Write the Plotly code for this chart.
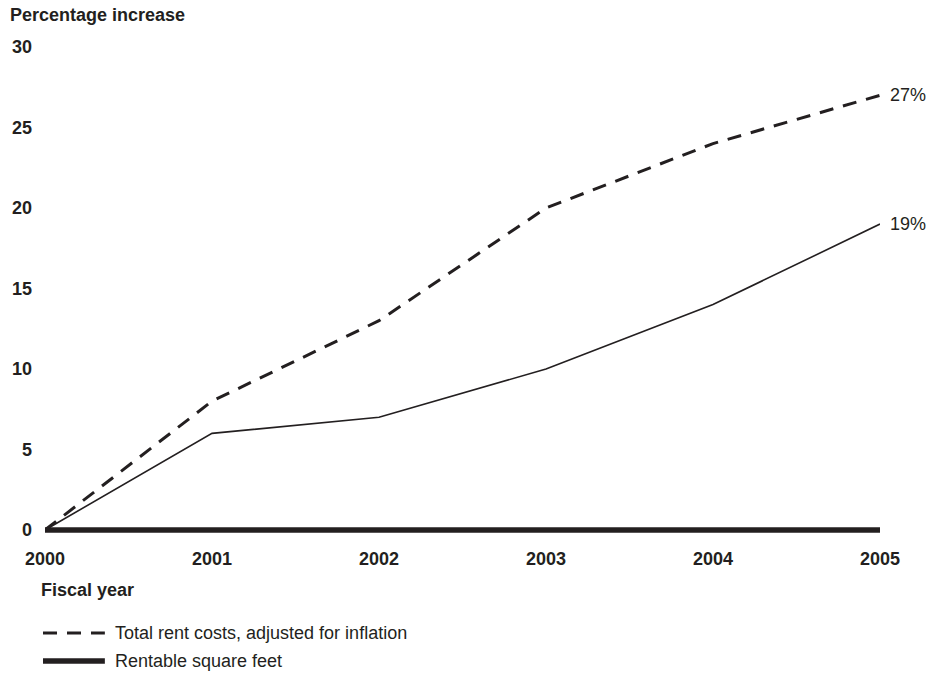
import plotly.graph_objects as go

# Fiscal years and percentage increases since 2000
years = [2000, 2001, 2002, 2003, 2004, 2005]
rent_adjusted = [0, 8, 13, 20, 24, 27]
rent_other = [0, 6, 7, 10, 14, 19]
rentable_sqft = [0, 0, 0, 0, 0, 0]

y_ticks = [0, 5, 10, 15, 20, 25, 30]
x_tick_labels = ["2000", "2001", "2002", "2003", "2004", "2005"]

INK = "#231f20"
FONT = "Liberation Sans, Arial, Helvetica, sans-serif"
FS = 18

# Small headroom below zero so the thick baseline series is not clipped
Y_MIN = -0.25

fig = go.Figure()

fig.add_trace(go.Scatter(
    x=years, y=rentable_sqft, mode="lines", name="Rentable square feet",
    line=dict(color=INK, width=5.5), showlegend=False, hoverinfo="skip"))
fig.add_trace(go.Scatter(
    x=years, y=rent_other, mode="lines", name="Rent",
    line=dict(color=INK, width=1.6), showlegend=False, hoverinfo="skip"))
fig.add_trace(go.Scatter(
    x=years, y=rent_adjusted, mode="lines",
    name="Total rent costs, adjusted for inflation",
    line=dict(color=INK, width=3, dash="14px,10px"), showlegend=False,
    hoverinfo="skip"))

# End-of-line value labels
for series in (rent_adjusted, rent_other):
    fig.add_annotation(x=years[-1], y=series[-1], xref="x", yref="y",
                       text=f"{series[-1]}%", showarrow=False,
                       xanchor="left", yanchor="middle", xshift=8,
                       font=dict(family=FONT, size=FS, color=INK))

# Plot area spans pixel rows 47..534 and columns 43..880
PH = 487.0
PW = 837.0
def py(pixel_row):
    return (534 - pixel_row) / PH
def px(pixel_col):
    return (pixel_col - 43) / PW

# Axis titles
fig.add_annotation(x=px(6), y=py(15), xref="paper", yref="paper",
                   text="Percentage increase", showarrow=False,
                   xanchor="left", yanchor="middle",
                   font=dict(family=FONT, size=FS, color=INK, weight="bold"))
fig.add_annotation(x=px(37), y=py(590), xref="paper", yref="paper",
                   text="Fiscal year", showarrow=False,
                   xanchor="left", yanchor="middle",
                   font=dict(family=FONT, size=FS, color=INK, weight="bold"))

# Legend drawn below the axis
legend_items = [
    ("Total rent costs, adjusted for inflation",
     dict(color=INK, width=3, dash="14px,10px"), py(633)),
    ("Rentable square feet", dict(color=INK, width=5.5), py(661)),
]
for label, line, ypos in legend_items:
    fig.add_shape(type="line", xref="paper", yref="paper",
                  x0=px(41), x1=px(103), y0=ypos, y1=ypos, line=line)
    fig.add_annotation(x=px(111), y=ypos, xref="paper", yref="paper",
                       text=label, showarrow=False, xanchor="left",
                       yanchor="middle",
                       font=dict(family=FONT, size=FS, color=INK))

fig.update_layout(
    width=948, height=680,
    margin=dict(l=43, r=68, t=47, b=146),
    paper_bgcolor="white", plot_bgcolor="white",
    font=dict(family=FONT, color=INK),
    xaxis=dict(range=[2000, 2005], tickvals=years, ticktext=x_tick_labels,
               showgrid=False, zeroline=False, showline=False, ticks="",
               ticklabelstandoff=12,
               tickfont=dict(family=FONT, size=FS, color=INK, weight="bold")),
    yaxis=dict(range=[Y_MIN, 30], tickvals=y_ticks, showgrid=False,
               zeroline=False, showline=False, ticks="",
               ticklabelstandoff=12,
               tickfont=dict(family=FONT, size=FS, color=INK, weight="bold")),
    showlegend=False,
)

fig.write_html("out.html")
